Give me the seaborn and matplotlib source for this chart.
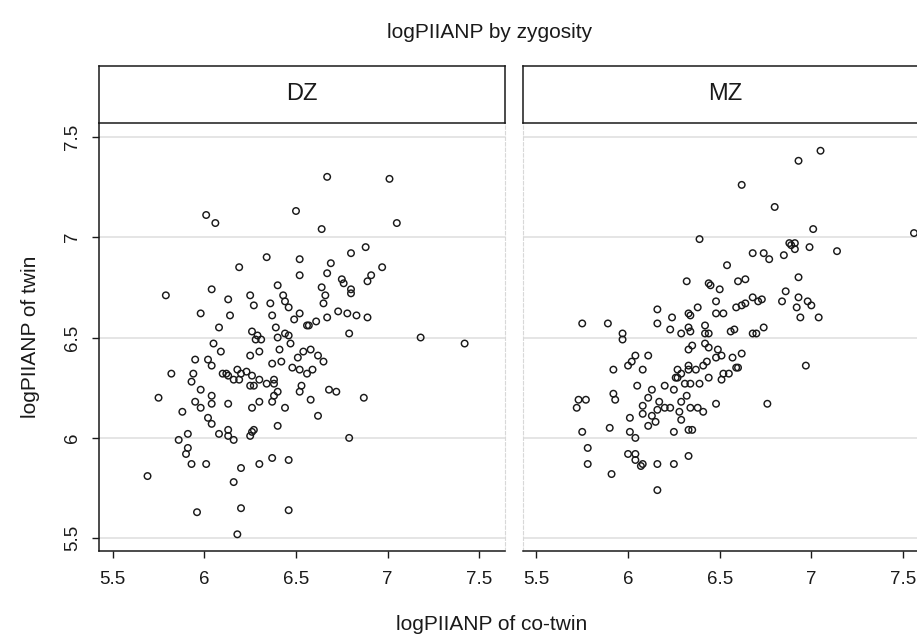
import pandas as pd
import matplotlib
matplotlib.use("Agg")
import matplotlib.pyplot as plt
import seaborn as sns

# logPIIANP of co-twin (x) and of twin (y)
dz_cotwin = [6.01, 6.06, 6.50, 6.34, 6.52, 6.19, 6.52, 5.79, 6.04, 6.13, 6.40, 6.25, 6.27, 6.36,
             6.43, 6.44, 6.46, 5.98, 6.14, 6.37, 6.52, 6.49, 6.56, 6.08, 6.39, 6.26, 6.44,
             6.29, 6.31, 6.28, 6.40, 6.46, 6.47, 6.05, 6.09, 6.30, 6.41, 6.25, 5.95, 6.02, 6.04,
             6.37, 6.42, 6.51, 6.54, 5.82, 5.94, 5.93, 6.10, 6.12, 6.13, 6.18, 6.16, 6.19, 6.20,
             6.23, 6.26, 6.30, 6.34, 6.38, 6.38, 6.25, 6.27, 6.48, 6.52, 6.56, 6.53, 6.52, 6.58,
             5.75, 5.98, 6.04, 6.04, 5.95, 5.98, 6.13, 5.88, 6.02, 6.04, 6.26, 6.30, 6.37, 6.38,
             6.40, 6.44, 6.40, 6.08, 6.13, 6.13, 6.16, 6.27, 6.26, 6.25, 5.91, 5.86, 5.91, 5.90,
             5.93, 6.01, 5.69, 6.20, 6.16, 6.30, 6.37, 6.46, 5.96, 6.20, 6.46, 6.18,
             6.67, 7.01, 6.64, 7.05, 6.88, 6.80, 6.69, 6.67, 6.97, 6.91, 6.89, 6.75, 6.76, 6.80,
             6.80, 6.64, 6.66, 6.65, 6.73, 6.78, 6.83, 6.89, 6.67, 6.61, 6.57, 6.79, 7.18, 7.42,
             6.58, 6.62, 6.65, 6.59, 6.68, 6.72, 6.87, 6.62, 6.79]
dz_twin = [7.11, 7.07, 7.13, 6.90, 6.89, 6.85, 6.81, 6.71, 6.74, 6.69, 6.76, 6.71, 6.66, 6.67,
           6.71, 6.68, 6.65, 6.62, 6.61, 6.61, 6.62, 6.59, 6.56, 6.55, 6.55, 6.53, 6.52,
           6.51, 6.49, 6.49, 6.50, 6.51, 6.47, 6.47, 6.43, 6.43, 6.44, 6.41, 6.39, 6.39, 6.36,
           6.37, 6.38, 6.40, 6.43, 6.32, 6.32, 6.28, 6.32, 6.32, 6.31, 6.34, 6.29, 6.29, 6.32,
           6.33, 6.31, 6.29, 6.27, 6.29, 6.27, 6.26, 6.26, 6.35, 6.34, 6.32, 6.26, 6.23, 6.19,
           6.20, 6.24, 6.21, 6.17, 6.18, 6.15, 6.17, 6.13, 6.10, 6.07, 6.15, 6.18, 6.18, 6.21,
           6.23, 6.15, 6.06, 6.02, 6.04, 6.01, 5.99, 6.04, 6.03, 6.01, 6.02, 5.99, 5.95, 5.92,
           5.87, 5.87, 5.81, 5.85, 5.78, 5.87, 5.90, 5.89, 5.63, 5.65, 5.64, 5.52,
           7.30, 7.29, 7.04, 7.07, 6.95, 6.92, 6.87, 6.82, 6.85, 6.81, 6.78, 6.79, 6.77, 6.74,
           6.72, 6.75, 6.71, 6.67, 6.63, 6.62, 6.61, 6.60, 6.60, 6.58, 6.56, 6.52, 6.50, 6.47,
           6.44, 6.41, 6.38, 6.34, 6.24, 6.23, 6.20, 6.11, 6.00]

mz_cotwin = [6.39, 6.32, 6.44, 6.45, 6.50, 6.16, 6.38, 6.48, 6.48, 6.33, 6.34, 6.24, 5.75, 5.89,
             6.16, 6.23, 6.33, 6.34, 6.42, 6.29, 6.42, 6.44, 5.97,
             5.97, 6.35, 6.33, 6.42, 6.44, 6.49, 6.48, 6.43, 6.41, 6.04, 6.11, 6.02, 6.00, 5.92,
             6.08, 6.27, 6.33, 6.29, 6.33, 6.37, 6.26, 6.27, 6.44, 6.05, 6.13, 6.20, 6.25, 6.31,
             6.34, 6.39, 5.92, 5.93, 5.73, 5.77, 5.72, 6.11, 6.17, 6.32, 6.29, 6.08, 6.08, 6.13,
             6.16, 6.20, 6.23, 6.28, 6.34, 6.38, 6.41, 6.48, 6.01, 6.29, 6.11, 6.15, 5.90, 5.75,
             6.01, 6.04, 6.25, 6.33, 6.35, 5.78, 6.00, 6.04, 6.04, 6.07, 6.08, 5.78, 6.16, 6.25,
             6.33, 5.91, 6.16,
             7.05, 6.93, 6.62, 6.80, 7.01, 7.56, 6.88, 6.89, 6.91, 6.91, 6.99, 7.14, 6.85, 6.68,
             6.74, 6.77, 6.54, 6.60, 6.64, 6.93, 6.86, 6.68, 6.93, 6.52, 6.59, 6.62, 6.64, 6.71,
             6.73, 6.84, 6.98, 7.00, 6.92, 6.94, 7.04, 6.56, 6.58, 6.68, 6.70, 6.74,
             6.51, 6.57, 6.62, 6.52, 6.55, 6.51, 6.59, 6.60, 6.97, 6.76]
mz_twin = [6.99, 6.78, 6.77, 6.76, 6.74, 6.64, 6.65, 6.68, 6.62, 6.62, 6.61, 6.60, 6.57, 6.57,
           6.57, 6.54, 6.55, 6.53, 6.56, 6.52, 6.52, 6.52, 6.52,
           6.49, 6.46, 6.44, 6.47, 6.45, 6.44, 6.40, 6.38, 6.36, 6.41, 6.41, 6.38, 6.36, 6.34,
           6.34, 6.34, 6.36, 6.32, 6.34, 6.34, 6.30, 6.30, 6.30, 6.26, 6.24, 6.26, 6.24, 6.27,
           6.27, 6.27, 6.22, 6.19, 6.19, 6.19, 6.15, 6.20, 6.18, 6.21, 6.18, 6.16, 6.12, 6.11,
           6.14, 6.15, 6.15, 6.13, 6.15, 6.15, 6.13, 6.17, 6.10, 6.09, 6.06, 6.08, 6.05, 6.03,
           6.03, 6.00, 6.03, 6.04, 6.04, 5.95, 5.92, 5.92, 5.89, 5.86, 5.87, 5.87, 5.87, 5.87,
           5.91, 5.82, 5.74,
           7.43, 7.38, 7.26, 7.15, 7.04, 7.02, 6.97, 6.96, 6.97, 6.94, 6.95, 6.93, 6.91, 6.92,
           6.92, 6.89, 6.86, 6.78, 6.79, 6.80, 6.73, 6.70, 6.70, 6.62, 6.65, 6.66, 6.67, 6.68,
           6.69, 6.68, 6.68, 6.66, 6.65, 6.60, 6.60, 6.53, 6.54, 6.52, 6.52, 6.55,
           6.41, 6.40, 6.42, 6.32, 6.32, 6.29, 6.35, 6.35, 6.36, 6.17]

panels = ["DZ", "MZ"]
tick_vals = [5.5, 6, 6.5, 7, 7.5]
tick_labels = ["5.5", "6", "6.5", "7", "7.5"]

df = pd.concat([
    pd.DataFrame({"cotwin": dz_cotwin, "twin": dz_twin, "zygosity": "DZ"}),
    pd.DataFrame({"cotwin": mz_cotwin, "twin": mz_twin, "zygosity": "MZ"}),
])

sns.set_theme(style="white")
plt.rcParams["font.family"] = ["Liberation Sans", "DejaVu Sans"]

W, H = 917, 640
fig = plt.figure(figsize=(W / 100, H / 100), dpi=100)

grid_col = "#e3e3e3"
ink = "#1a1a1a"
panel_left = [99, 522.7]
panel_w = 406
plot_top, plot_bot = 123, 551.3
head_top = 66

for i, zyg in enumerate(panels):
    x0 = panel_left[i]
    ax = fig.add_axes([x0 / W, 1 - plot_bot / H, panel_w / W, (plot_bot - plot_top) / H])
    sub = df[df["zygosity"] == zyg]
    for v in tick_vals:
        ax.axhline(v, color=grid_col, lw=1.3, zorder=0)
    sns.scatterplot(data=sub, x="cotwin", y="twin", ax=ax, marker="o", s=22,
                    facecolor="none", edgecolor=ink, linewidth=1.05, zorder=3, legend=False)
    ax.set_xlim(5.4253, 7.6402)
    ax.set_ylim(5.4353, 7.5682)
    ax.set_xticks(tick_vals)
    ax.set_xticklabels(tick_labels, fontsize=13.5, color=ink)
    ax.tick_params(axis="x", length=5, width=1, color=ink, pad=9, direction="out", bottom=True)
    ax.set_xlabel("")
    ax.set_ylabel("")
    ax.spines["top"].set_visible(False)
    ax.spines["bottom"].set_color(ink)
    ax.spines["bottom"].set_linewidth(1.1)
    if i == 0:
        ax.set_yticks(tick_vals)
        ax.set_yticklabels(tick_labels, fontsize=13.5, color=ink, rotation=90, va="center")
        ax.tick_params(axis="y", length=5, width=1, color=ink, pad=8, direction="out", left=True)
        ax.spines["left"].set_color(ink)
        ax.spines["left"].set_linewidth(1.1)
        ax.spines["right"].set_color("#d8d8d8")
        ax.spines["right"].set_linestyle((0, (3, 2)))
        ax.spines["right"].set_linewidth(0.8)
    else:
        ax.set_yticks([])
        ax.spines["left"].set_color("#d8d8d8")
        ax.spines["left"].set_linestyle((0, (3, 2)))
        ax.spines["left"].set_linewidth(0.8)
        ax.spines["right"].set_visible(False)

    # strip header
    hx = fig.add_axes([x0 / W, 1 - plot_top / H, panel_w / W, (plot_top - head_top) / H])
    hx.set_xticks([])
    hx.set_yticks([])
    for sp in hx.spines.values():
        sp.set_color(ink)
        sp.set_linewidth(1.1)
    hx.text(0.5, 0.5, zyg, ha="center", va="center", fontsize=17, color=ink,
            transform=hx.transAxes)

fig.text(490 / W, 1 - 32 / H, "logPIIANP by zygosity", ha="center", va="center",
         fontsize=15, color=ink)
fig.text(492 / W, 1 - 625 / H, "logPIIANP of co-twin", ha="center", va="center",
         fontsize=15, color=ink)
fig.text(30 / W, 1 - 337 / H, "logPIIANP of twin", ha="center", va="center",
         rotation=90, fontsize=15, color=ink)

fig.savefig("out.png", dpi=100)
